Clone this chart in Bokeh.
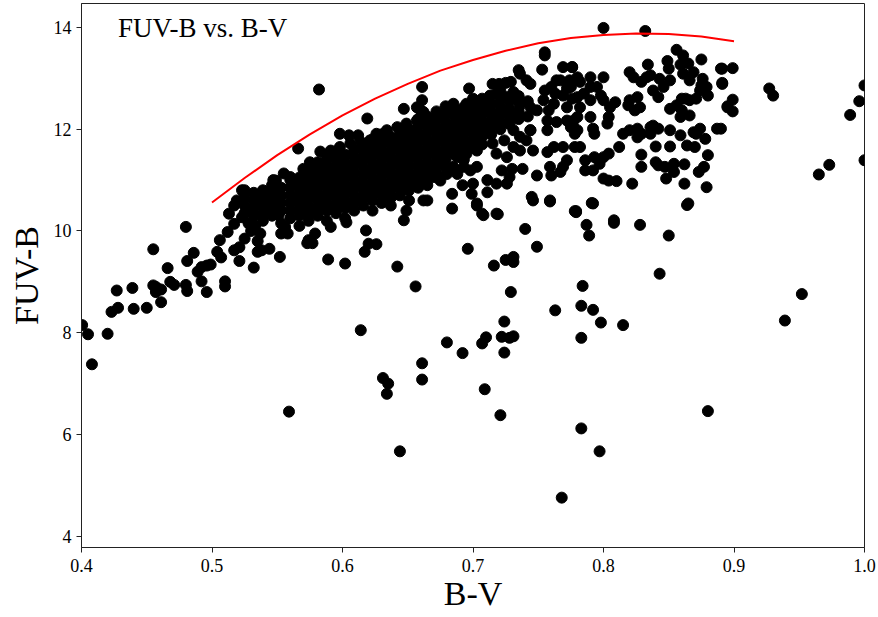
from bokeh.plotting import figure
from bokeh.models import Label, Range1d, FixedTicker
from bokeh.embed import file_html
from bokeh.resources import INLINE

# ---- red reference curve ----
curve_bv = [0.500, 0.525, 0.550, 0.575, 0.600, 0.625, 0.650, 0.675, 0.700,
            0.725, 0.750, 0.775, 0.800, 0.825, 0.850, 0.875, 0.900]
curve_fuv = [10.56, 11.04, 11.49, 11.90, 12.27, 12.60, 12.89, 13.15, 13.36,
             13.54, 13.69, 13.79, 13.85, 13.88, 13.87, 13.82, 13.73]

# ---- isolated / sparse points ----
outlier_pts = [
    (0.4005, 8.15), (0.405, 7.97), (0.408, 7.38), (0.420, 7.98), (0.423, 8.41), (0.428, 8.49),
    (0.427, 8.83), (0.439, 8.88), (0.440, 8.47), (0.450, 8.49), (0.455, 9.64), (0.455, 8.93),
    (0.457, 8.80), (0.461, 8.85), (0.461, 8.60), (0.457, 8.90), (0.466, 9.27), (0.468, 9.00),
    (0.471, 8.94), (0.480, 10.08), (0.480, 8.94), (0.481, 8.82), (0.481, 9.41), (0.486, 9.57),
    (0.489, 9.20), (0.492, 9.29), (0.496, 9.32), (0.499, 9.34), (0.492, 9.01), (0.496, 8.80),
    (0.506, 9.82), (0.504, 9.59), (0.507, 9.48), (0.510, 9.01), (0.510, 8.91), (0.512, 9.98),
    (0.513, 10.34), (0.517, 10.50), (0.519, 10.60), (0.517, 9.62), (0.521, 9.68), (0.521, 9.41),
    (0.517, 10.14), (0.523, 10.27), (0.532, 9.28), (0.535, 9.59), (0.538, 9.62), (0.544, 9.65),
    (0.552, 9.49), (0.573, 9.76), (0.577, 9.76), (0.589, 9.44), (0.602, 9.36), (0.617, 9.59),
    (0.626, 9.74), (0.642, 9.30), (0.656, 8.91), (0.696, 9.65), (0.614, 8.05), (0.680, 7.81),
    (0.692, 7.60), (0.661, 7.40), (0.661, 7.08), (0.631, 7.11), (0.635, 7.00), (0.634, 6.80),
    (0.559, 6.45), (0.703, 10.50), (0.708, 10.31), (0.719, 10.33), (0.746, 10.60), (0.759, 10.58),
    (0.792, 10.54), (0.779, 10.37), (0.787, 10.12), (0.789, 9.91), (0.808, 10.16), (0.828, 10.12),
    (0.740, 10.04), (0.749, 9.69), (0.716, 9.32), (0.725, 9.43), (0.731, 9.49), (0.731, 9.39),
    (0.843, 9.16), (0.729, 8.80), (0.784, 8.92), (0.763, 8.44), (0.783, 8.53), (0.792, 8.45),
    (0.798, 8.20), (0.815, 8.15), (0.724, 8.22), (0.710, 7.91), (0.707, 7.79), (0.722, 7.92),
    (0.728, 7.90), (0.731, 7.93), (0.724, 7.61), (0.783, 7.90), (0.864, 10.51), (0.850, 9.91),
    (0.952, 8.76), (0.939, 8.24), (0.644, 5.67), (0.721, 6.38), (0.783, 6.12), (0.797, 5.67),
    (0.768, 4.76), (0.709, 6.89), (0.880, 6.46), (0.927, 12.80), (0.930, 12.66), (0.989, 12.28),
    (0.996, 12.55), (1.000, 12.86), (1.000, 11.39), (0.973, 11.30), (0.965, 11.11), (0.582, 12.78),
    (0.800, 13.99), (0.832, 13.93),
]

# ---- points of the main sequence (edges and patchy parts) ----
band_pts = [
    (0.525, 9.85), (0.530, 10.00), (0.533, 10.10), (0.537, 9.95), (0.528, 10.15), (0.535, 9.80),
    (0.523, 10.80), (0.547, 11.00), (0.530, 10.40), (0.540, 10.60), (0.545, 10.75), (0.550, 10.50),
    (0.619, 12.21), (0.647, 12.40), (0.657, 12.43), (0.662, 12.34), (0.598, 11.91), (0.605, 11.88),
    (0.612, 11.88), (0.566, 11.62), (0.583, 11.56), (0.591, 11.58), (0.598, 11.65), (0.606, 11.72),
    (0.614, 11.75), (0.621, 11.78), (0.626, 11.91), (0.634, 11.98), (0.642, 12.04), (0.649, 12.11),
    (0.657, 12.17), (0.662, 12.24), (0.555, 11.13), (0.549, 10.99), (0.560, 11.06), (0.570, 11.22),
    (0.575, 11.35), (0.578, 11.19), (0.568, 10.99), (0.551, 10.31), (0.556, 10.08), (0.558, 9.95),
    (0.553, 9.95), (0.574, 9.82), (0.579, 9.95), (0.591, 10.08), (0.603, 10.17), (0.618, 10.01),
    (0.620, 9.75), (0.649, 10.40), (0.647, 10.21), (0.662, 10.60),
    (0.755, 13.51), (0.755, 13.45), (0.753, 13.17), (0.735, 13.16), (0.736, 13.09), (0.741, 12.96),
    (0.744, 12.89), (0.661, 12.83), (0.661, 12.57), (0.660, 12.37), (0.697, 12.80), (0.715, 12.89),
    (0.720, 12.89), (0.725, 12.91), (0.729, 12.93), (0.731, 12.73), (0.734, 12.57), (0.726, 12.63),
    (0.718, 12.70), (0.713, 12.66), (0.711, 12.53), (0.700, 12.60), (0.695, 12.50), (0.685, 12.50),
    (0.693, 12.43), (0.736, 12.47), (0.744, 12.43), (0.749, 12.37), (0.754, 12.57), (0.758, 12.37),
    (0.762, 12.50), (0.757, 12.17), (0.764, 12.14), (0.772, 12.17), (0.777, 12.04), (0.780, 12.24),
    (0.772, 12.43), (0.776, 12.60), (0.769, 12.66), (0.763, 12.70), (0.767, 12.96), (0.774, 12.96),
    (0.772, 12.80), (0.764, 12.96), (0.760, 12.83), (0.755, 12.76), (0.769, 13.22), (0.776, 13.22),
    (0.731, 11.98), (0.736, 11.85), (0.741, 11.78), (0.744, 11.98), (0.746, 11.58), (0.736, 11.58),
    (0.731, 11.65), (0.724, 11.78), (0.718, 11.52), (0.726, 11.45), (0.715, 11.72), (0.705, 11.78),
    (0.711, 11.98), (0.700, 12.04), (0.705, 12.24), (0.698, 12.17), (0.690, 12.11), (0.703, 11.58),
    (0.695, 11.52), (0.688, 11.45), (0.693, 11.26), (0.685, 11.26), (0.680, 11.12), (0.688, 11.12),
    (0.698, 11.19), (0.703, 11.26), (0.675, 10.99), (0.670, 11.06), (0.665, 11.12), (0.660, 10.99),
    (0.662, 11.26), (0.670, 11.26), (0.692, 10.90), (0.700, 10.93), (0.711, 11.00), (0.718, 10.93),
    (0.726, 10.93), (0.728, 11.06), (0.722, 11.19), (0.730, 11.22), (0.738, 11.22), (0.749, 11.09),
    (0.759, 11.26), (0.760, 11.09), (0.769, 11.26), (0.767, 11.16), (0.772, 11.39), (0.757, 11.55),
    (0.762, 11.65), (0.769, 11.65), (0.778, 11.65), (0.757, 11.98), (0.744, 11.98), (0.684, 10.73),
    (0.665, 10.60), (0.684, 10.44), (0.699, 10.73), (0.703, 10.54), (0.711, 10.76), (0.707, 10.34),
    (0.718, 10.34), (0.745, 10.67), (0.759, 10.60), (0.778, 10.39),
    (0.856, 13.56), (0.861, 13.45), (0.849, 13.34), (0.850, 13.19), (0.834, 13.27), (0.859, 13.27),
    (0.865, 13.29), (0.875, 13.37), (0.869, 13.12), (0.861, 13.09), (0.866, 12.96), (0.890, 13.19),
    (0.891, 12.91), (0.895, 12.43), (0.776, 13.22), (0.780, 13.02), (0.782, 12.93), (0.790, 13.02),
    (0.800, 13.02), (0.795, 12.83), (0.790, 12.83), (0.798, 12.66), (0.820, 13.12), (0.823, 13.02),
    (0.833, 13.02), (0.829, 12.93), (0.836, 13.06), (0.843, 12.99), (0.851, 12.96), (0.846, 12.83),
    (0.838, 12.76), (0.842, 12.63), (0.775, 12.83), (0.780, 12.63), (0.785, 12.70), (0.782, 12.43),
    (0.790, 12.57), (0.800, 12.57), (0.805, 12.43), (0.809, 12.53), (0.804, 12.24), (0.803, 12.11),
    (0.790, 12.24), (0.777, 12.17), (0.780, 11.98), (0.792, 12.01), (0.793, 11.91), (0.820, 12.57),
    (0.826, 12.63), (0.828, 12.43), (0.824, 12.37), (0.819, 12.47), (0.851, 12.40), (0.856, 12.47),
    (0.860, 12.37), (0.859, 12.24), (0.866, 12.27), (0.863, 12.60), (0.860, 12.60), (0.866, 12.57),
    (0.871, 12.60), (0.874, 12.76), (0.876, 12.99), (0.879, 12.83), (0.880, 12.66), (0.875, 12.86),
    (0.887, 12.01), (0.815, 11.91), (0.820, 11.98), (0.826, 12.01), (0.829, 11.91), (0.836, 12.04),
    (0.838, 12.07), (0.842, 12.01), (0.836, 11.91), (0.826, 11.84), (0.851, 11.98), (0.859, 11.88),
    (0.869, 11.94), (0.874, 12.01), (0.878, 11.81), (0.871, 11.91), (0.812, 11.65), (0.840, 11.66),
    (0.851, 11.66), (0.864, 11.68), (0.870, 11.65), (0.880, 11.49), (0.829, 11.50), (0.829, 11.26),
    (0.840, 11.35), (0.842, 11.29), (0.847, 11.26), (0.854, 11.32), (0.862, 11.31), (0.854, 11.16),
    (0.848, 11.03), (0.877, 11.26), (0.873, 11.16), (0.862, 10.93), (0.879, 10.86), (0.865, 10.54),
    (0.822, 10.93), (0.782, 11.65), (0.786, 11.39), (0.793, 11.45), (0.800, 11.45), (0.804, 11.52),
    (0.797, 11.32), (0.786, 11.19), (0.792, 11.19), (0.800, 11.03), (0.804, 10.99), (0.810, 10.98),
    (0.791, 10.55), (0.779, 10.39), (0.808, 10.21), (0.775, 12.04), (0.778, 11.91),
    (0.891, 13.19), (0.899, 13.20), (0.891, 12.89), (0.899, 12.58), (0.895, 12.45), (0.899, 12.35),
    (0.890, 12.01),
]

# ---- densely packed core of the sequence: B-V columns and their FUV-B values ----
core_bv = [0.525, 0.532, 0.539, 0.546, 0.553, 0.560, 0.567, 0.574, 0.581, 0.588, 0.595,
           0.602, 0.609, 0.616, 0.623, 0.630, 0.637, 0.644, 0.651, 0.658, 0.665, 0.672,
           0.679, 0.686, 0.693, 0.700, 0.707, 0.714, 0.721, 0.728, 0.735, 0.742]
core_fuv = [
    [10.35, 10.50, 10.65, 10.80],
    [10.30, 10.45, 10.60, 10.75],
    [10.20, 10.35, 10.50, 10.65, 10.80],
    [10.30, 10.45, 10.60, 10.75, 10.90],
    [10.15, 10.40, 10.55, 10.70, 10.85],
    [10.25, 10.40, 10.55, 10.70, 10.85, 11.00],
    [10.10, 10.30, 10.45, 10.60, 10.75, 10.90, 11.05],
    [10.20, 10.35, 10.50, 10.65, 10.80, 10.95, 11.10, 11.25],
    [10.30, 10.45, 10.60, 10.75, 10.90, 11.05, 11.20, 11.35],
    [10.20, 10.40, 10.55, 10.70, 10.85, 11.00, 11.15, 11.30, 11.45],
    [10.35, 10.50, 10.65, 10.80, 10.95, 11.10, 11.25, 11.40, 11.55],
    [10.25, 10.45, 10.60, 10.75, 10.90, 11.05, 11.20, 11.35, 11.50],
    [10.40, 10.55, 10.70, 10.85, 11.00, 11.15, 11.30, 11.45, 11.60],
    [10.50, 10.65, 10.80, 10.95, 11.10, 11.25, 11.40, 11.55, 11.70],
    [10.40, 10.60, 10.75, 10.90, 11.05, 11.20, 11.35, 11.50, 11.65, 11.80],
    [10.55, 10.70, 10.85, 11.00, 11.15, 11.30, 11.45, 11.60, 11.75, 11.90],
    [10.50, 10.65, 10.80, 10.95, 11.10, 11.25, 11.40, 11.55, 11.70, 11.85],
    [10.70, 10.85, 11.00, 11.15, 11.30, 11.45, 11.60, 11.75, 11.90, 12.00],
    [10.60, 10.80, 10.95, 11.10, 11.25, 11.40, 11.55, 11.70, 11.85, 12.00],
    [10.85, 11.00, 11.15, 11.30, 11.45, 11.60, 11.75, 11.90, 12.05, 12.20],
    [10.90, 11.05, 11.20, 11.35, 11.50, 11.65, 11.80, 11.95, 12.10, 12.25],
    [11.15, 11.30, 11.45, 11.60, 11.75, 11.90, 12.05, 12.20, 12.35],
    [11.25, 11.40, 11.55, 11.70, 11.85, 12.00, 12.15, 12.30, 12.45],
    [11.50, 11.65, 11.80, 11.95, 12.10, 12.25, 12.40],
    [11.40, 11.60, 11.75, 11.90, 12.05, 12.20, 12.35],
    [11.65, 11.80, 11.95, 12.10, 12.25, 12.40, 12.50],
    [11.70, 11.85, 12.00, 12.15, 12.30, 12.45, 12.60],
    [11.90, 12.05, 12.20, 12.35, 12.50],
    [12.00, 12.15, 12.30, 12.45, 12.60, 12.75],
    [12.10, 12.25, 12.40, 12.55],
    [12.20, 12.35, 12.65],
    [12.25, 12.55],
]

x_ticks = [0.4, 0.5, 0.6, 0.7, 0.8, 0.9, 1.0]
y_ticks = [4, 6, 8, 10, 12, 14]

bv = [a for a, b in outlier_pts] + [a for a, b in band_pts]
fuv = [b for a, b in outlier_pts] + [b for a, b in band_pts]
for xc, ys in zip(core_bv, core_fuv):
    for yv in ys:
        bv.append(xc)
        fuv.append(yv)

FONT = "Liberation Serif"

p = figure(width=878, height=617, output_backend="svg", toolbar_location=None,
           x_range=Range1d(0.4, 1.0), y_range=Range1d(3.78, 14.47),
           min_border_left=81, min_border_right=14, min_border_top=3, min_border_bottom=70)
p.background_fill_color = "white"
p.border_fill_color = "white"
p.outline_line_color = "#222222"
p.outline_line_width = 1
p.grid.visible = False

p.scatter(bv, fuv, size=11, color="black", marker="circle")
p.line(curve_bv, curve_fuv, line_color="red", line_width=2)

p.xaxis.ticker = FixedTicker(ticks=x_ticks)
p.yaxis.ticker = FixedTicker(ticks=y_ticks)
p.xaxis.major_label_overrides = {t: f"{t:.1f}" for t in x_ticks}
for ax in (p.xaxis[0], p.yaxis[0]):
    ax.major_label_text_font = FONT
    ax.major_label_text_font_size = "18px"
    ax.major_label_text_color = "black"
    ax.axis_label_text_font = FONT
    ax.axis_label_text_font_size = "34px"
    ax.axis_label_text_font_style = "normal"
    ax.axis_label_text_color = "black"
    ax.major_tick_out = 5
    ax.major_tick_in = 0
    ax.minor_tick_out = 0
    ax.minor_tick_in = 0
    ax.axis_line_color = "#222222"
    ax.major_tick_line_color = "#222222"
p.xaxis.major_label_standoff = 6
p.xaxis.axis_label_standoff = 0
p.yaxis.major_label_standoff = 5
p.yaxis.axis_label_standoff = 6
p.xaxis.axis_label = "B-V"
p.yaxis.axis_label = "FUV-B"

p.add_layout(Label(x=0.428, y=13.98, text="FUV-B vs. B-V", text_font=FONT,
                   text_font_size="27px", text_color="black", text_baseline="alphabetic"))

open("out.html", "w").write(file_html(p, INLINE))
